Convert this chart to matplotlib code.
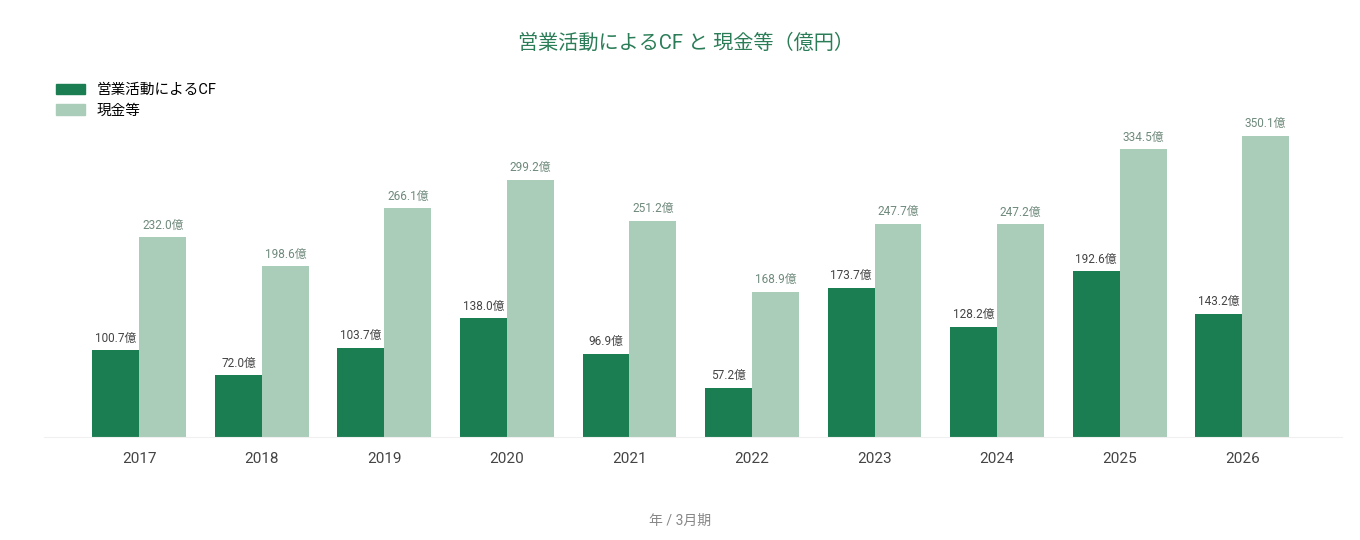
import numpy as np
import matplotlib.pyplot as plt
from matplotlib.patches import Patch

plt.rcParams['font.family'] = ['Roboto', 'Noto Sans CJK JP', 'DejaVu Sans']

years = ['2017', '2018', '2019', '2020', '2021', '2022', '2023', '2024', '2025', '2026']
op_cf = [100.7, 72.0, 103.7, 138.0, 96.9, 57.2, 173.7, 128.2, 192.6, 143.2]
cash = [232.0, 198.6, 266.1, 299.2, 251.2, 168.9, 247.7, 247.2, 334.5, 350.1]

dark = '#1b7d52'
light = '#a9cdb8'

fig = plt.figure(figsize=(13.6, 5.4), dpi=100)
ax = fig.add_axes([44 / 1360, 1 - 437 / 540, 1298 / 1360, 337 / 540])

x = np.arange(len(years))
w = 0.383
ax.bar(x - w / 2, op_cf, w, color=dark)
ax.bar(x + w / 2, cash, w, color=light)

for i in range(len(years)):
    ax.annotate(f'{op_cf[i]:.1f}億', (x[i] - w / 2, op_cf[i]), xytext=(0, 4),
                textcoords='offset points', ha='center', va='bottom',
                fontsize=8.5, color='#444444')
    ax.annotate(f'{cash[i]:.1f}億', (x[i] + w / 2, cash[i]), xytext=(0, 4),
                textcoords='offset points', ha='center', va='bottom',
                fontsize=8.5, color='#6f8a7c')

ax.set_xlim(-0.778, 9.815)
ax.set_ylim(0, 337 / 0.86)
ax.set_xticks(x)
ax.set_xticklabels(years, fontsize=11, color='#444444')
ax.tick_params(axis='x', length=0, pad=11)
ax.set_yticks([])
for s in ['top', 'right', 'left']:
    ax.spines[s].set_visible(False)
ax.spines['bottom'].set_color('#f0f0f0')

fig.text(686 / 1360, 1 - 43 / 540, '営業活動によるCF と 現金等（億円）', ha='center', va='center',
         fontsize=14.5, color='#2a7d57')
fig.text(680 / 1360, 1 - 521 / 540, '年 / 3月期', ha='center', va='center',
         fontsize=10, color='#888888')

handles = [Patch(color=dark, label='営業活動によるCF'), Patch(color=light, label='現金等')]
fig.legend(handles=handles, loc='upper left', bbox_to_anchor=(43 / 1360, 1 - 70 / 540),
           frameon=False, fontsize=10.5, handlelength=1.95, handleheight=0.75,
           labelspacing=0.45, handletextpad=0.8)

fig.savefig('out.png', dpi=100)
